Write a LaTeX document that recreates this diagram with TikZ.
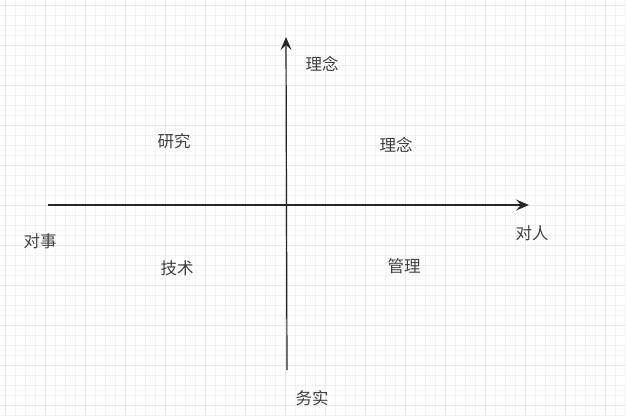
\documentclass[tikz,border=0pt]{standalone}
\usepackage{fontspec}
\newfontfamily\cjk{Noto Sans CJK SC}
\usetikzlibrary{arrows.meta}
\begin{document}
\begin{tikzpicture}[x=1pt,y=-1pt,
  lbl/.style={font=\cjk\fontsize{16.5}{16.5}\selectfont, text=black!75, inner sep=0pt},
  axis/.style={line width=1.2pt, draw=black!85, -{Stealth[length=13pt,width=11pt,inset=5pt]}}]
\useasboundingbox (0,0) rectangle (626,415);
\fill[white] (0,0) rectangle (626,415);
\foreach \x in {5,15,...,625} \draw[black!5, line width=0.6pt] (\x,0) -- (\x,415);
\foreach \y in {5,15,...,415} \draw[black!5, line width=0.6pt] (0,\y) -- (626,\y);
\foreach \x in {5,45,...,625} \draw[black!9, line width=0.6pt] (\x,0) -- (\x,415);
\foreach \y in {5,45,...,415} \draw[black!9, line width=0.6pt] (0,\y) -- (626,\y);
\coordinate (vb) at (287,370);
\coordinate (vt) at (286,37);
\coordinate (hl) at (48,205);
\coordinate (hr) at (529,205);
\draw[axis] (vb) -- (vt);
\draw[axis] (hl) -- (hr);
\node[lbl] (top) at (322,64) {理念};
\node[lbl] (q2) at (174,141) {研究};
\node[lbl] (q1) at (396,145) {理念};
\node[lbl] (left) at (40,241) {对事};
\node[lbl] (right) at (532,233) {对人};
\node[lbl] (q3) at (177,268) {技术};
\node[lbl] (q4) at (404,266) {管理};
\node[lbl] (bot) at (312,398) {务实};
\end{tikzpicture}
\end{document}
